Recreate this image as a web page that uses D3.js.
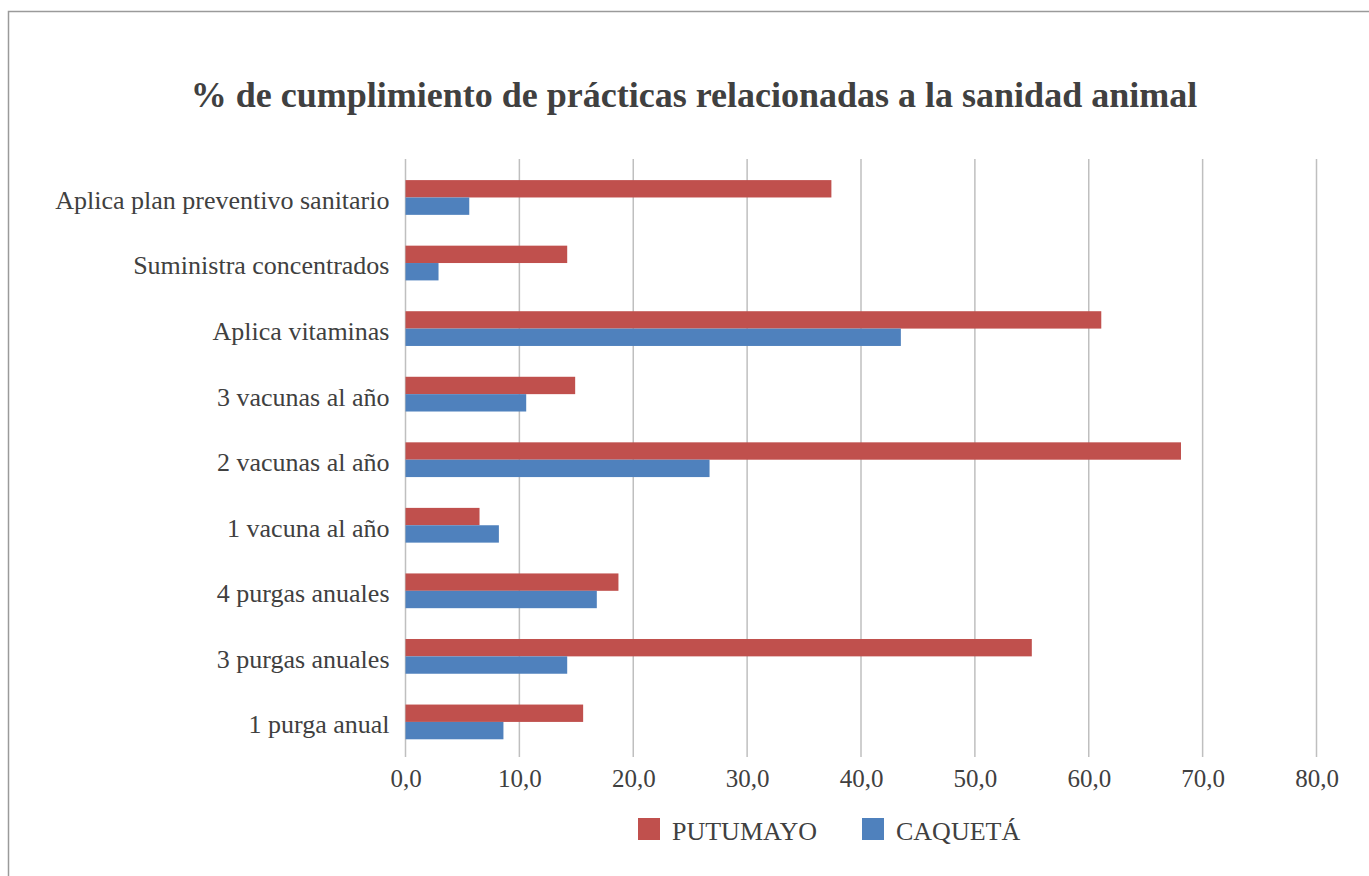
<!DOCTYPE html>
<html>
<head>
<meta charset="utf-8">
<script src="https://cdn.jsdelivr.net/npm/d3@7"></script>
<style>
  body { margin: 0; background: #fff; }
  text { font-family: "Liberation Serif", "Times New Roman", serif; fill: #404040; }
</style>
</head>
<body>
<div id="chart"></div>
<script>
// data, top to bottom as shown
const categories = [
  "Aplica plan preventivo sanitario",
  "Suministra concentrados",
  "Aplica vitaminas",
  "3 vacunas al año",
  "2 vacunas al año",
  "1 vacuna al año",
  "4 purgas anuales",
  "3 purgas anuales",
  "1 purga anual"
];
const putumayo = [37.4, 14.2, 61.1, 14.9, 68.1, 6.5, 18.7, 55.0, 15.6];
const caqueta  = [5.6, 2.9, 43.5, 10.6, 26.7, 8.2, 16.8, 14.2, 8.6];
const seriesNames = ["PUTUMAYO", "CAQUETÁ"];
const xTicks = [0, 10, 20, 30, 40, 50, 60, 70, 80];

const width = 1369;
const height = 876;
const colors = ["#C0504D", "#4F81BD"];

const svg = d3.select("#chart")
    .append("svg")
    .attr("width", width)
    .attr("height", height);

// chart frame
svg.append("rect")
    .attr("x", 8.5)
    .attr("y", 11.5)
    .attr("width", width + 20)
    .attr("height", height + 20)
    .attr("fill", "none")
    .attr("stroke", "#9a9a9a")
    .attr("stroke-width", 1.5);

svg.append("text")
    .attr("x", 694)
    .attr("y", 107)
    .attr("text-anchor", "middle")
    .style("font-size", "36px")
    .style("font-weight", "bold")
    .text("% de cumplimiento de prácticas relacionadas a la sanidad animal");

const x = d3.scaleLinear()
    .domain([0, 80])
    .range([405.5, 1316.5]);

const y = d3.scaleBand()
    .domain(categories)
    .range([164.7, 754.7])
    .paddingInner(0.47)
    .paddingOuter(0.235);

// gridlines
svg.append("g")
    .selectAll("line")
    .data(xTicks)
    .join("line")
    .attr("x1", d => x(d))
    .attr("x2", d => x(d))
    .attr("y1", 159)
    .attr("y2", 757)
    .attr("stroke", "#bfbfbf")
    .attr("stroke-width", 1.5);

// x axis labels
const xAxis = svg.append("g")
    .attr("transform", "translate(0,757)")
    .call(d3.axisBottom(x).tickValues(xTicks).tickSize(0).tickPadding(12)
        .tickFormat(d => d3.format(".1f")(d).replace(".", ",")));
xAxis.select(".domain").remove();
xAxis.selectAll("text")
    .style("font-size", "25px")
    .style("font-family", "Liberation Serif, serif")
    .attr("fill", "#404040");

// y axis labels
const yAxis = svg.append("g")
    .attr("transform", "translate(405.5,0)")
    .call(d3.axisLeft(y).tickSize(0).tickPadding(16));
yAxis.select(".domain").remove();
yAxis.selectAll("text")
    .style("font-size", "26px")
    .style("font-family", "Liberation Serif, serif")
    .attr("dy", "0.44em")
    .attr("fill", "#404040");

// bars
const sub = d3.scaleBand()
    .domain(seriesNames)
    .range([0, y.bandwidth()]);

const rows = categories.map((c, i) => ({ cat: c, vals: [putumayo[i], caqueta[i]] }));

svg.append("g")
    .selectAll("g")
    .data(rows)
    .join("g")
    .attr("transform", d => `translate(0,${y(d.cat)})`)
    .selectAll("rect")
    .data(d => d.vals.map((v, j) => ({ name: seriesNames[j], v: v, j: j })))
    .join("rect")
    .attr("x", x(0))
    .attr("y", d => sub(d.name))
    .attr("width", d => x(d.v) - x(0))
    .attr("height", sub.bandwidth())
    .attr("fill", d => colors[d.j]);

// legend
const legendX = [638, 862];
const legend = svg.append("g")
    .selectAll("g")
    .data(seriesNames)
    .join("g")
    .attr("transform", (d, i) => `translate(${legendX[i]},818)`);

legend.append("rect")
    .attr("width", 22)
    .attr("height", 22)
    .attr("fill", (d, i) => colors[i]);

legend.append("text")
    .attr("x", 34)
    .attr("y", 22)
    .style("font-size", "26px")
    .text(d => d);
</script>
</body>
</html>
